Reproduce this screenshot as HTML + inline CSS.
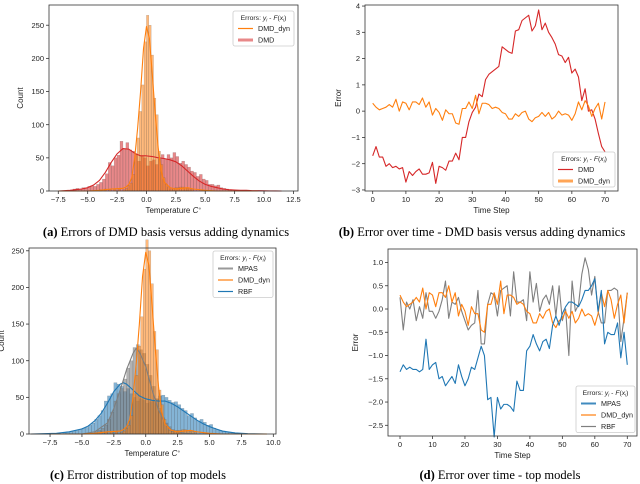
<!DOCTYPE html>
<html><head><meta charset="utf-8"><style>
html,body{margin:0;padding:0;background:#fff;width:640px;height:484px;overflow:hidden}
svg text{font-family:"Liberation Sans","DejaVu Sans",sans-serif}
.cap{font-family:"Liberation Serif",serif;font-size:12.5px}
</style></head><body>
<svg id="fig" width="640" height="484" viewBox="0 0 640 484" xmlns="http://www.w3.org/2000/svg"></svg>
<script>
// ---------- DATA ----------
const dmdBinStarts = [-6.25,-6,-5.75,-5.5,-5.25,-5,-4.75,-4.5,-4.25,-4,-3.75,-3.5,-3.25,-3,-2.75,-2.5,-2.25,-2,-1.75,-1.5,-1.25,-1,-0.75,-0.5,-0.25,0,0.25,0.5,0.75,1,1.25,1.5,1.75,2,2.25,2.5,2.75,3,3.25,3.5,3.75,4,4.25,4.5,4.75,5,5.25,5.5,5.75,6,6.25,6.5,6.75,7];
const dmdCounts = [3,4,3,5,5,7,8,7,10,13,18,26,43,38,50,54,75,64,73,62,60,55,45,52,50,38,45,47,40,48,55,48,55,50,58,52,42,45,40,36,30,28,22,25,18,16,10,10,8,9,5,4,3,2];
const dmdKdeX = [-7.5,-7,-6.5,-6,-5.5,-5,-4.5,-4,-3.5,-3,-2.5,-2,-1.5,-1,-0.5,0,0.5,1,1.5,2,2.5,3,3.5,4,4.5,5,5.5,6,6.5,7,7.5,8,8.5,9,9.5,10,10.5,11,11.5];
const dmdKdeY = [0,0.5,1,2,3,5,9,16,28,43,56,64,63,57,53,53,52,50,49,47,44,38,30,22,15,10,7,5,3,2,1.5,1,1,0.5,0.5,0.3,0.2,0.1,0];
const dynBinStarts = [-4,-3.6,-3.2,-2.8,-2.4,-2,-1.8,-1.6,-1.4,-1.2,-1,-0.8,-0.6,-0.4,-0.2,0,0.2,0.4,0.6,0.8,1,1.2,1.4,1.6,1.8,2,2.2,2.4,2.6,2.8,3,3.2,3.4,3.6,3.8];
const dynCounts = [2,3,2,3,3,2,4,8,12,25,55,80,120,160,225,265,250,205,140,115,60,40,20,10,5,3,4,5,5,6,6,5,4,3,2];
const dynKdeX = [-7.5,-5,-4,-3,-2,-1.75,-1.5,-1.25,-1,-0.75,-0.5,-0.25,0,0.25,0.5,0.75,1,1.25,1.5,2,2.5,3,3.5,4,5,6,9.5];
const dynKdeY = [0,0,1,3,4,6,10,20,50,95,150,215,248,230,175,115,65,30,14,5,3,4,5,3,1,0,0];
const mpasBinStarts = [-4,-3.75,-3.5,-3.25,-3,-2.75,-2.5,-2.25,-2,-1.75,-1.5,-1.25,-1,-0.75,-0.5,-0.25,0,0.25,0.5,0.75,1,1.25,1.5,1.75,2,2.25,2.5];
const mpasCounts = [3,5,8,12,20,30,45,55,62,75,90,100,118,122,115,110,95,80,65,48,35,22,15,10,6,4,2];
const mpasKdeX = [-9,-5,-4,-3,-2.5,-2,-1.5,-1,-0.75,-0.5,0,0.5,1,1.5,2,3,4,9.5];
const mpasKdeY = [0,0,3,15,35,60,88,110,117,112,92,60,33,15,6,1,0,0];
const rbfBinStarts = [-6.5,-6.25,-6,-5.75,-5.5,-5.25,-5,-4.75,-4.5,-4.25,-4,-3.75,-3.5,-3.25,-3,-2.75,-2.5,-2.25,-2,-1.75,-1.5,-1.25,-1,-0.75,-0.5,-0.25,0,0.25,0.5,0.75,1,1.25,1.5,1.75,2,2.25,2.5,2.75,3,3.25,3.5,3.75,4,4.25,4.5,4.75,5,5.25,5.5,5.75,6,6.25,6.5,6.75,7];
const rbfCounts = [2,3,3,4,5,6,8,9,12,15,20,25,32,45,52,55,70,68,65,58,62,55,50,45,48,46,42,44,46,48,52,53,50,46,43,44,40,35,32,25,28,22,18,20,16,12,13,8,6,5,4,3,2,2,1];
const rbfKdeX = [-9,-7,-6,-5,-4.5,-4,-3.5,-3,-2.5,-2,-1.75,-1.5,-1,-0.5,0,0.5,1,1.5,2,2.5,3,3.5,4,4.5,5,5.5,6,7,8,9.5];
const rbfKdeY = [0,1,3,7,11,18,28,42,58,68,70,68,60,52,48,46,45,45,42,37,31,25,19,14,10,7,4,1.5,0.5,0];
const bDmd = [-1.7,-1.35,-1.75,-1.75,-2.1,-2.0,-2.15,-2.1,-2.2,-2.15,-2.7,-2.3,-2.45,-2.3,-2.2,-2.4,-2.4,-2.35,-1.95,-2.75,-2.1,-2.15,-2.25,-1.9,-1.9,-1.6,-1.85,-1.0,-1.0,-0.4,-0.05,0.15,0.65,0.55,1.2,1.4,1.5,1.6,1.7,2.45,2.35,2.25,2.2,3.05,3.1,3.45,3.55,3.65,3.05,3.25,3.85,3.1,3.35,3.0,2.8,2.55,2.15,2.1,1.85,2.05,1.45,1.6,1.3,0.4,0.85,0.0,0.05,-0.3,-0.85,-1.35,-1.55];
const dynSeries = [0.3,0.15,0.05,0.1,0.15,0.25,0.15,0.45,0.0,0.35,0.3,0.05,0.35,0.35,0.25,0.5,0.15,0.35,-0.15,0.1,-0.05,-0.35,0.05,-0.1,-0.1,-0.45,-0.5,0.1,0.1,0.35,0.1,0.6,-0.1,0.3,0.3,0.25,0.1,0.15,0.1,-0.05,-0.1,-0.3,-0.3,-0.1,-0.2,-0.05,0.0,-0.3,-0.4,-0.25,-0.2,-0.05,-0.2,-0.05,-0.3,-0.2,0.0,-0.15,-0.1,-0.15,-0.35,-0.1,0.35,0.05,0.4,0.2,-0.2,0.1,0.3,-0.3,0.35];
const mpasSeries = [-1.35,-1.2,-1.3,-1.25,-1.3,-1.3,-1.35,-1.3,-0.65,-1.3,-1.2,-1.15,-1.5,-1.45,-1.65,-1.55,-1.45,-1.6,-1.2,-1.45,-1.65,-1.5,-1.25,-1.3,-1.05,-0.8,-1.0,-1.95,-1.9,-2.75,-1.9,-2.15,-2.05,-2.05,-2.1,-2.2,-1.55,-1.75,-1.75,-0.9,-0.8,-0.55,-0.75,-0.9,-0.7,-0.65,-0.85,-0.35,-0.15,-0.35,-0.1,0.05,0.15,0.15,0.1,0.05,0.2,0.4,0.4,0.5,0.65,-0.05,0.4,-0.75,-0.5,-0.55,-0.55,-0.3,-1.05,-0.5,-1.2];
const rbfSeries = [0.25,-0.45,0.15,0.0,0.2,-0.25,0.05,-0.2,0.35,-0.05,-0.05,-0.2,-0.05,0.2,0.6,-0.2,0.15,0.1,0.25,-0.05,-0.25,-0.45,-0.35,-0.3,0.4,-0.75,-0.75,0.1,0.35,0.3,-0.15,0.4,0.45,0.5,-0.15,0.8,0.15,0.15,0.2,-0.25,0.8,0.15,0.55,-0.05,0.2,0.3,0.1,0.5,-0.15,0.5,-0.25,0.0,-1.0,0.6,-0.05,0.1,0.75,1.1,0.85,0.3,0.7,-0.05,-0.3,-0.3,0.4,0.4,0.45,0.4,-0.7,-0.2,0.35];
const histXTicksA = [-7.5,-5,-2.5,0,2.5,5,7.5,10,12.5];
const histXTicksC = [-7.5,-5,-2.5,0,2.5,5,7.5,10];
const countTicks = [0,50,100,150,200,250];
const stepTicks = [0,10,20,30,40,50,60,70];
const bYTicks = [-3,-2,-1,0,1,2,3,4];
const dYTicks = [-2.5,-2,-1.5,-1,-0.5,0,0.5,1];

// ---------- HELPERS ----------
const NS = "http://www.w3.org/2000/svg";
const fig = document.getElementById('fig');
function mk(tag, attrs, parent){ const e=document.createElementNS(NS,tag); for(const k in attrs) e.setAttribute(k,attrs[k]); (parent||fig).appendChild(e); return e; }
const C = {orange:'#ff7f0e', red:'#d62728', blue:'#1f77b4', gray:'#7f7f7f'};

function makeAxes(name, box, xd, yd){
  const g = mk('g',{});
  
  
  const sx = v => box.x0 + (v-xd[0])/(xd[1]-xd[0])*(box.x1-box.x0);
  const sy = v => box.y1 - (v-yd[0])/(yd[1]-yd[0])*(box.y1-box.y0);
  return {g, sx, sy, box};
}
function fmt(v, dec){ const s = v.toFixed(dec); return s.replace('-', '\u2212'); }
function drawFrame(ax, xt, xdec, yt, ydec, xlabel, ylabel, ylabX){
  const b = ax.box;
  const fr = mk('rect',{x:b.x0,y:b.y0,width:b.x1-b.x0,height:b.y1-b.y0,fill:'none',stroke:'#333','stroke-width':0.8}, ax.g);
  
  
  xt.forEach(v=>{
    const x = ax.sx(v);
    mk('line',{x1:x,x2:x,y1:b.y1,y2:b.y1+3,stroke:'#333','stroke-width':0.8},ax.g);
    const t = mk('text',{x:x,y:b.y1+11,'font-size':7.5,'text-anchor':'middle',fill:'#222'},ax.g);
    t.textContent = fmt(v,xdec);
    
    
  });
  yt.forEach(v=>{
    const y = ax.sy(v);
    mk('line',{x1:b.x0-3,x2:b.x0,y1:y,y2:y,stroke:'#333','stroke-width':0.8},ax.g);
    const t = mk('text',{x:b.x0-5,y:y+2.6,'font-size':7.5,'text-anchor':'end',fill:'#222'},ax.g);
    t.textContent = fmt(v,ydec);
    
    
  });
  const xl = mk('text',{x:(b.x0+b.x1)/2,y:b.y1+22,'font-size':8,'text-anchor':'middle',fill:'#222'},ax.g);
  xl.innerHTML = xlabel;
  
  
  const cy=(b.y0+b.y1)/2;
  const yl = mk('text',{x:ylabX,y:cy,'font-size':8,'text-anchor':'middle',fill:'#222',transform:`rotate(-90 ${ylabX} ${cy})`},ax.g);
  yl.textContent = ylabel;
  
  
}
function drawHist(ax, starts, counts, w, color, op, name){
  const g = mk('g',{},ax.g);
  
  
  starts.forEach((s,i)=>{
    const x0=ax.sx(s), x1=ax.sx(s+w), y=ax.sy(counts[i]), y0=ax.sy(0);
    const r = mk('rect',{x:x0,y:y,width:Math.max(0.5,x1-x0),height:y0-y,fill:color,'fill-opacity':op,stroke:'#444','stroke-opacity':0.35,'stroke-width':0.4},g);
    
    
  });
}
function drawLine(ax, xs, ys, color, sw, name){
  const d = ys.map((v,i)=>(i?'L':'M')+ax.sx(xs[i]).toFixed(2)+','+ax.sy(v).toFixed(2)).join(' ');
  const p = mk('path',{d:d,fill:'none',stroke:color,'stroke-width':sw,'stroke-linejoin':'round'},ax.g);
  
  
}
function drawLegend(ax, x, y, w, entries){
  const g = mk('g',{},ax.g);
  
  
  const h = 12 + entries.length*11.5;
  mk('rect',{x:x,y:y,width:w,height:h,rx:2,fill:'#fff','fill-opacity':0.85,stroke:'#ccc','stroke-width':0.8},g);
  const t = mk('text',{x:x+w/2,y:y+9,'font-size':6.8,'text-anchor':'middle',fill:'#222'},g);
  t.innerHTML = 'Errors: <tspan font-style="italic">y</tspan><tspan font-size="4.5" font-style="italic" dy="1.5">i</tspan><tspan dy="-1.5"> - </tspan><tspan font-style="italic">F</tspan>(<tspan font-style="italic">x</tspan><tspan font-size="4.5" font-style="italic" dy="1.5">i</tspan><tspan dy="-1.5">)</tspan>';
  
  
  entries.forEach((e,i)=>{
    const yy = y + 20 + i*11.5;
    mk('line',{x1:x+5,x2:x+20,y1:yy-2.5,y2:yy-2.5,stroke:e.c,'stroke-width':e.w,'stroke-opacity':e.o||1},g);
    const tt = mk('text',{x:x+25,y:yy,'font-size':7.2,fill:'#222'},g);
    tt.textContent = e.l;
    
    
  });
}
function caption(x,y,bold,rest,name){
  const t = mk('text',{x:x,y:y,'text-anchor':'middle',class:'cap',fill:'#000'});
  t.innerHTML = '<tspan font-weight="bold">'+bold+'</tspan> '+rest;
  
  
}

// ---------- PANEL A ----------
{
  const ax = makeAxes('panel-a-histogram',{x0:49,x1:298,y0:5,y1:191},[-8.29,12.89],[0,280.5]);
  drawHist(ax, dmdBinStarts, dmdCounts, 0.25, C.red, 0.55, 'dmd-hist');
  drawHist(ax, dynBinStarts, dynCounts, 0.2, C.orange, 0.55, 'dmd-dyn-hist');
  drawLine(ax, dmdKdeX, dmdKdeY, C.red, 1.1, 'dmd-kde');
  drawLine(ax, dynKdeX, dynKdeY, C.orange, 1.1, 'dmd-dyn-kde');
  drawFrame(ax, histXTicksA, 1, countTicks, 0, 'Temperature <tspan font-style="italic">C</tspan><tspan font-size="5" dy="-3">\u2218</tspan>', 'Count', 23);
  drawLegend(ax, 233, 11, 61, [{l:'DMD_dyn',c:C.orange,w:1.2},{l:'DMD',c:C.red,w:3,o:0.55}]);
}
caption(166,236,'(a)','Errors of DMD basis versus adding dynamics','caption-a');

// ---------- PANEL B ----------
{
  const ax = makeAxes('panel-b-timeseries',{x0:365,x1:618,y0:5,y1:191},[-2.32,73.91],[-3.04,4.04]);
  const steps = bDmd.map((_,i)=>i);
  drawLine(ax, steps, bDmd, C.red, 1.1, 'dmd-line');
  drawLine(ax, steps, dynSeries, C.orange, 1.1, 'dmd-dyn-line');
  drawFrame(ax, stepTicks, 0, bYTicks, 0, 'Time Step', 'Error', 341);
  drawLegend(ax, 553, 152, 62, [{l:'DMD',c:C.red,w:1.2},{l:'DMD_dyn',c:C.orange,w:3,o:0.7}]);
}
caption(482,236,'(b)','Error over time - DMD basis versus adding dynamics','caption-b');

// ---------- PANEL C ----------
{
  const ax = makeAxes('panel-c-histogram',{x0:29,x1:276,y0:248,y1:434},[-9.15,10.21],[0,253.8]);
  drawHist(ax, rbfBinStarts, rbfCounts, 0.25, C.blue, 0.55, 'rbf-hist');
  drawHist(ax, mpasBinStarts, mpasCounts, 0.25, C.gray, 0.6, 'mpas-hist');
  drawHist(ax, dynBinStarts, dynCounts, 0.2, C.orange, 0.55, 'dmd-dyn-hist');
  drawLine(ax, rbfKdeX, rbfKdeY, C.blue, 1.1, 'rbf-kde');
  drawLine(ax, mpasKdeX, mpasKdeY, C.gray, 1.1, 'mpas-kde');
  drawLine(ax, dynKdeX, dynKdeY, C.orange, 1.1, 'dmd-dyn-kde');
  drawFrame(ax, histXTicksC, 1, countTicks, 0, 'Temperature <tspan font-style="italic">C</tspan><tspan font-size="5" dy="-3">\u2218</tspan>', 'Count', 4);
  drawLegend(ax, 213, 251, 60, [{l:'MPAS',c:C.gray,w:2,o:0.8},{l:'DMD_dyn',c:C.orange,w:1.2},{l:'RBF',c:C.blue,w:1.2}]);
}
caption(138,479,'(c)','Error distribution of top models','caption-c');

// ---------- PANEL D ----------
{
  const ax = makeAxes('panel-d-timeseries',{x0:388,x1:637,y0:249,y1:436},[-3.70,72.99],[-2.73,1.29]);
  const steps = mpasSeries.map((_,i)=>i);
  drawLine(ax, steps, rbfSeries, C.gray, 1.1, 'rbf-line');
  drawLine(ax, steps, dynSeries, C.orange, 1.1, 'dmd-dyn-line');
  drawLine(ax, steps, mpasSeries, C.blue, 1.1, 'mpas-line');
  drawFrame(ax, stepTicks, 0, dYTicks, 1, 'Time Step', 'Error', 358);
  drawLegend(ax, 576, 386, 59, [{l:'MPAS',c:C.blue,w:2,o:0.85},{l:'DMD_dyn',c:C.orange,w:1.2},{l:'RBF',c:C.gray,w:1.2}]);
}
caption(500,479,'(d)','Error over time - top models','caption-d');
</script>
</body></html>
